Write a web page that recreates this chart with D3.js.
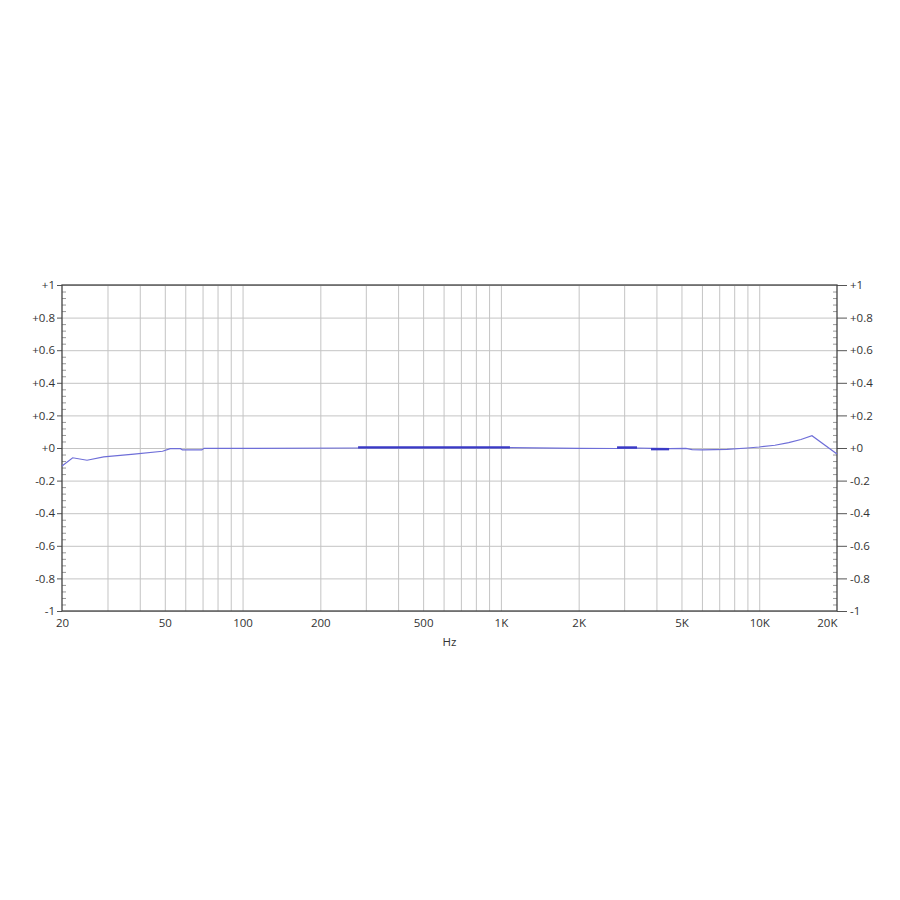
<!DOCTYPE html>
<html>
<head>
<meta charset="utf-8">
<script src="https://cdn.jsdelivr.net/npm/d3@7"></script>
<style>
  html, body { margin: 0; padding: 0; background: #fff; }
  svg { display: block; }
  text { font-family: "Open Sans", "Noto Sans", sans-serif; }
</style>
</head>
<body>
<svg id="chart" width="900" height="900"></svg>
<script>
// ---- data ----
const freqs = [20, 22, 25, 29, 38, 49, 52.5, 57.5, 58.5, 69.5, 71, 100, 280, 1084, 2000, 2816, 3365, 3810, 4478, 5200, 5500, 6000, 7500, 9000, 10000, 11500, 13000, 14500, 16000, 20000];
const values = [-0.11, -0.06, -0.075, -0.055, -0.037, -0.02, -0.004, -0.004, -0.012, -0.012, -0.002, -0.002, 0, 0.002, -0.002, -0.003, 0, -0.002, -0.004, -0.002, -0.01, -0.012, -0.008, 0, 0.006, 0.017, 0.033, 0.052, 0.075, -0.037];

const hlFreqs = [[280, 1084], [2816, 3365], [3810, 4478]];
const hlValues = [[0.004, 0.004], [0.003, 0.003], [-0.007, -0.007]];

const xTickValues = [20, 50, 100, 200, 500, 1000, 2000, 5000, 10000, 20000];
const xTickLabels = ["20", "50", "100", "200", "500", "1K", "2K", "5K", "10K", "20K"];
const xGridValues = [30, 40, 50, 60, 70, 80, 90, 100, 200, 300, 400, 500, 600, 700, 800, 900, 1000,
                     2000, 3000, 4000, 5000, 6000, 7000, 8000, 9000, 10000];
const yTickValues = [-1, -0.8, -0.6, -0.4, -0.2, 0, 0.2, 0.4, 0.6, 0.8, 1];
const yTickLabels = ["-1", "-0.8", "-0.6", "-0.4", "-0.2", "+0", "+0.2", "+0.4", "+0.6", "+0.8", "+1"];
const yMinorValues = d3.range(-50, 51, 2).map(d => d / 50).filter(v => Math.abs(Math.round(v * 5) - v * 5) > 1e-6);
const xAxisTitle = "Hz";

// ---- layout ----
const L = 62, R = 837, T = 285, B = 611;
const svg = d3.select("#chart");
const x = d3.scaleLog().domain([20, 20000]).range([L, R]);
const y = d3.scaleLinear().domain([-1, 1]).range([B, T]);

// grid
const gVert = svg.append("g").attr("transform", `translate(0,${B})`)
  .call(d3.axisBottom(x).tickValues(xGridValues).tickSize(-(B - T)).tickFormat(""));
gVert.select(".domain").remove();
gVert.selectAll("line").attr("stroke", "#c4c4c4").attr("stroke-width", 1);

const gHor = svg.append("g").attr("transform", `translate(${L},0)`)
  .call(d3.axisLeft(y).tickValues(yTickValues).tickSize(-(R - L)).tickFormat(""));
gHor.select(".domain").remove();
gHor.selectAll("line").attr("stroke", "#c4c4c4").attr("stroke-width", 1);

// minor ticks (inside)
const gMinL = svg.append("g").attr("transform", `translate(${L},0)`)
  .call(d3.axisRight(y).tickValues(yMinorValues).tickSize(4).tickFormat(""));
gMinL.select(".domain").remove();
gMinL.selectAll("line").attr("stroke", "#999");
const gMinR = svg.append("g").attr("transform", `translate(${R},0)`)
  .call(d3.axisLeft(y).tickValues(yMinorValues).tickSize(4).tickFormat(""));
gMinR.select(".domain").remove();
gMinR.selectAll("line").attr("stroke", "#999");

// left axis
const gL = svg.append("g").attr("transform", `translate(${L},0)`)
  .call(d3.axisLeft(y).tickValues(yTickValues).tickSize(5).tickPadding(2)
    .tickFormat((d, i) => yTickLabels[i]));
gL.select(".domain").remove();
gL.selectAll("line").attr("stroke", "#555");
gL.selectAll("text").attr("fill", "#333").attr("font-size", 11.5);

// right axis
const gR = svg.append("g").attr("transform", `translate(${R},0)`)
  .call(d3.axisRight(y).tickValues(yTickValues).tickSize(10).tickPadding(3)
    .tickFormat((d, i) => yTickLabels[i]));
gR.select(".domain").remove();
gR.selectAll("line").attr("stroke", "#555");
gR.selectAll("text").attr("fill", "#333").attr("font-size", 11.5);

// bottom axis labels
const gB = svg.append("g").attr("transform", `translate(0,${B})`)
  .call(d3.axisBottom(x).tickValues(xTickValues).tickSize(0).tickPadding(8)
    .tickFormat((d, i) => xTickLabels[i]));
gB.select(".domain").remove();
gB.selectAll("text").attr("fill", "#333").attr("font-size", 11.5);
gB.selectAll("text").filter((d) => d === 20000).attr("text-anchor", "end");

// frame
svg.append("rect").attr("x", L).attr("y", T).attr("width", R - L).attr("height", B - T)
  .attr("fill", "none").attr("stroke", "#444").attr("stroke-width", 1.3);

// axis title
svg.append("text").attr("x", (L + R) / 2).attr("y", 646).attr("text-anchor", "middle")
  .attr("fill", "#333").attr("font-size", 11.5).text(xAxisTitle);

// main curve
const line = d3.line().x(d => x(d[0])).y(d => y(d[1]));
const pts = freqs.map((f, i) => [f, values[i]]);
svg.append("path").datum(pts).attr("d", line)
  .attr("fill", "none").attr("stroke", "#6e6ed8").attr("stroke-width", 1.2);

// highlighted segments
hlFreqs.forEach((fs, k) => {
  const seg = fs.map((f, i) => [f, hlValues[k][i]]);
  svg.append("path").datum(seg).attr("d", line)
    .attr("fill", "none").attr("stroke", "#3a3ac6").attr("stroke-width", 2.4);
});
</script>
</body>
</html>
